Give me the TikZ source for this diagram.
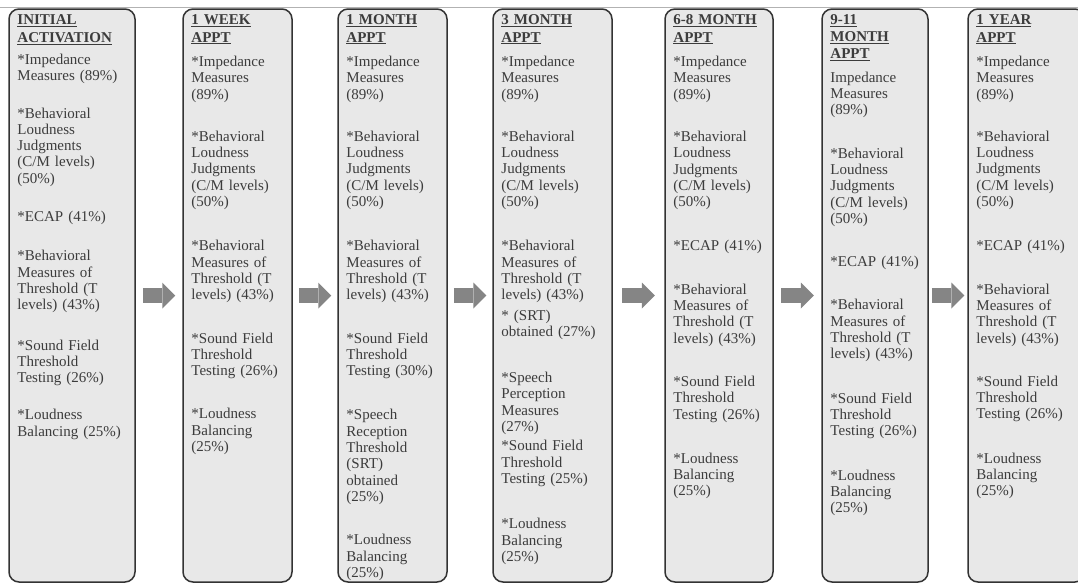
\documentclass[tikz,border=0pt]{standalone}
\usepackage{fontspec}
\setmainfont{Liberation Serif}
\usetikzlibrary{arrows.meta,positioning}

\definecolor{boxfill}{HTML}{E8E8E8}
\definecolor{boxline}{HTML}{333333}
\definecolor{inkgray}{HTML}{3C3C3C}
\definecolor{arrowgray}{HTML}{858585}

\tikzset{
  stagebox/.style={draw=boxline, fill=boxfill, line width=1.5pt, rounded corners=10pt,
    minimum height=573pt, inner sep=0pt},
  stagetext/.style={anchor=north west, inner sep=0pt, text width=135pt, align=left,
    text=inkgray, font=\fontsize{15}{16.3}\selectfont},
  flowarrow/.style={draw=arrowgray, line width=15pt,
    -{Triangle[width=26pt,length=13pt,line width=0pt]}}
}

\begin{document}
\begin{tikzpicture}[x=1pt,y=-1pt]
  \useasboundingbox (0,0) rectangle (1078,584);
  \draw[gray!60] (0,7) -- (1078,7);

  % the seven appointment columns
  \node[stagebox, minimum width=126pt] (box1) at (72,295.5) {};
  \node[stagebox, minimum width=109pt] (box2) at (237.5,295.5) {};
  \node[stagebox, minimum width=109pt] (box3) at (392.5,295.5) {};
  \node[stagebox, minimum width=119pt] (box4) at (552.5,295.5) {};
  \node[stagebox, minimum width=108pt] (box5) at (719,295.5) {};
  \node[stagebox, minimum width=106pt] (box6) at (875,295.5) {};
  \node[stagebox, minimum width=117pt] (box7) at (1026.5,295.5) {};

  \node[stagetext] (txt1) at ([xshift=9pt,yshift=-6pt]box1.north west) {%
    \textbf{\underline{INITIAL}}\\[1.5pt] \textbf{\underline{ACTIVATION}}\\[6pt]
    *Impedance\\ Measures (89\%)\\[21pt]
    *Behavioral\\ Loudness\\ Judgments\\ (C/M levels)\\ (50\%)\\[22pt]
    *ECAP (41\%)\\[23pt]
    *Behavioral\\ Measures of\\ Threshold (T\\ levels) (43\%)\\[24pt]
    *Sound Field\\ Threshold\\ Testing (26\%)\\[21pt]
    *Loudness\\ Balancing (25\%)};

  \node[stagetext] (txt2) at ([xshift=9pt,yshift=-6pt]box2.north west) {%
    \textbf{\underline{1 WEEK}}\\[1.5pt] \textbf{\underline{APPT}}\\[8pt]
    *Impedance\\ Measures\\ (89\%)\\[26pt]
    *Behavioral\\ Loudness\\ Judgments\\ (C/M levels)\\ (50\%)\\[28pt]
    *Behavioral\\ Measures of\\ Threshold (T\\ levels) (43\%)\\[27pt]
    *Sound Field\\ Threshold\\ Testing (26\%)\\[27pt]
    *Loudness\\ Balancing\\ (25\%)};

  \node[stagetext] (txt3) at ([xshift=9pt,yshift=-6pt]box3.north west) {%
    \textbf{\underline{1 MONTH}}\\[1.5pt] \textbf{\underline{APPT}}\\[8pt]
    *Impedance\\ Measures\\ (89\%)\\[26pt]
    *Behavioral\\ Loudness\\ Judgments\\ (C/M levels)\\ (50\%)\\[28pt]
    *Behavioral\\ Measures of\\ Threshold (T\\ levels) (43\%)\\[27pt]
    *Sound Field\\ Threshold\\ Testing (30\%)\\[28pt]
    *Speech\\ Reception\\ Threshold\\ (SRT)\\ obtained\\ (25\%)\\[27pt]
    *Loudness\\ Balancing\\ (25\%)};

  \node[stagetext] (txt4) at ([xshift=9pt,yshift=-6pt]box4.north west) {%
    \textbf{\underline{3 MONTH}}\\[1.5pt] \textbf{\underline{APPT}}\\[8pt]
    *Impedance\\ Measures\\ (89\%)\\[26pt]
    *Behavioral\\ Loudness\\ Judgments\\ (C/M levels)\\ (50\%)\\[28pt]
    *Behavioral\\ Measures of\\ Threshold (T\\ levels) (43\%)\\[4pt]
    * (SRT)\\ obtained (27\%)\\[30pt]
    *Speech\\ Perception\\ Measures\\ (27\%)\\[3pt]
    *Sound Field\\ Threshold\\ Testing (25\%)\\[29pt]
    *Loudness\\ Balancing\\ (25\%)};

  \node[stagetext] (txt5) at ([xshift=9pt,yshift=-6pt]box5.north west) {%
    \textbf{\underline{6-8 MONTH}}\\[1.5pt] \textbf{\underline{APPT}}\\[8pt]
    *Impedance\\ Measures\\ (89\%)\\[26pt]
    *Behavioral\\ Loudness\\ Judgments\\ (C/M levels)\\ (50\%)\\[28pt]
    *ECAP (41\%)\\[27pt]
    *Behavioral\\ Measures of\\ Threshold (T\\ levels) (43\%)\\[27pt]
    *Sound Field\\ Threshold\\ Testing (26\%)\\[28pt]
    *Loudness\\ Balancing\\ (25\%)};

  \node[stagetext] (txt6) at ([xshift=9pt,yshift=-6pt]box6.north west) {%
    \textbf{\underline{9-11}}\\[1pt] \textbf{\underline{MONTH}}\\[1pt] \textbf{\underline{APPT}}\\[7pt]
    Impedance\\ Measures\\ (89\%)\\[27pt]
    *Behavioral\\ Loudness\\ Judgments\\ (C/M levels)\\ (50\%)\\[27pt]
    *ECAP (41\%)\\[27pt]
    *Behavioral\\ Measures of\\ Threshold (T\\ levels) (43\%)\\[28pt]
    *Sound Field\\ Threshold\\ Testing (26\%)\\[28pt]
    *Loudness\\ Balancing\\ (25\%)};

  \node[stagetext] (txt7) at ([xshift=9pt,yshift=-6pt]box7.north west) {%
    \textbf{\underline{1 YEAR}}\\[1.5pt] \textbf{\underline{APPT}}\\[8pt]
    *Impedance\\ Measures\\ (89\%)\\[26pt]
    *Behavioral\\ Loudness\\ Judgments\\ (C/M levels)\\ (50\%)\\[28pt]
    *ECAP (41\%)\\[27pt]
    *Behavioral\\ Measures of\\ Threshold (T\\ levels) (43\%)\\[27pt]
    *Sound Field\\ Threshold\\ Testing (26\%)\\[28pt]
    *Loudness\\ Balancing\\ (25\%)};

  % block arrows between the columns
  \foreach \from/\to/\cut in {box1/box2/7, box2/box3/6, box3/box4/6,
                              box4/box5/9.5, box5/box6/7.5, box6/box7/3}
    \draw[flowarrow, shorten <=\cut pt, shorten >=\cut pt] (\from) -- (\to);
\end{tikzpicture}
\end{document}
